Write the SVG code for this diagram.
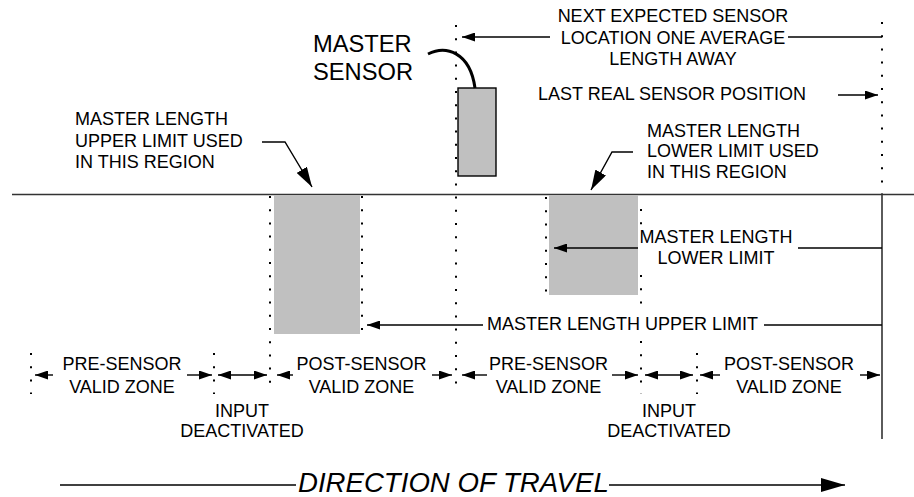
<svg xmlns="http://www.w3.org/2000/svg" width="914" height="497" viewBox="0 0 914 497">
<style>
text{font-family:"Liberation Sans",Arial,sans-serif;font-size:18px;fill:#000}
.c{text-anchor:middle}
.big{font-size:23.7px}
.trav{font-size:27.6px;font-style:italic}
.ln{stroke:#000;stroke-width:1.4;fill:none}
.dot{stroke:#000;stroke-width:2;stroke-dasharray:2 11.2;fill:none}
.box{fill:#c0c0c0}
</style>
<defs>
<marker id="ah" viewBox="0 0 13 9" refX="13" refY="4.5" markerWidth="13" markerHeight="9" orient="auto-start-reverse" markerUnits="userSpaceOnUse"><path d="M0,0L13,4.5L0,9z" fill="#000"/></marker>
<marker id="ahL" viewBox="0 0 20 12" refX="20" refY="6" markerWidth="20" markerHeight="12" orient="auto" markerUnits="userSpaceOnUse"><path d="M0,0L20,6L0,12z" fill="#000"/></marker>
<marker id="ahT" viewBox="0 0 24 14" refX="24" refY="7" markerWidth="24" markerHeight="14" orient="auto" markerUnits="userSpaceOnUse"><path d="M0,0L24,7L0,14z" fill="#000"/></marker>
</defs>

<g id="ground">
<line x1="12" y1="194.5" x2="914" y2="194.5" stroke="#333" stroke-width="1.6"/>
<line x1="882" y1="194" x2="882" y2="439" stroke="#333" stroke-width="1.6"/>
</g>

<g id="guides">
<line class="dot" x1="456" y1="25" x2="456" y2="394"/>
<line class="dot" x1="882" y1="22" x2="882" y2="194"/>
<line class="dot" x1="270" y1="196" x2="270" y2="394"/>
<line class="dot" x1="362" y1="196" x2="362" y2="334"/>
<line class="dot" x1="546" y1="197" x2="546" y2="294"/>
<line class="dot" x1="641" y1="209" x2="641" y2="394"/>
<line class="dot" x1="697" y1="353" x2="697" y2="394"/>
<line class="dot" x1="214" y1="353" x2="214" y2="394"/>
<line class="dot" x1="31" y1="353" x2="31" y2="394"/>
</g>

<g id="upper-region">
<rect class="box" x="274" y="195" width="86" height="139"/>
</g>
<g id="lower-region">
<rect class="box" x="549" y="195" width="89" height="100"/>
</g>

<g id="master-sensor">
<rect class="box" x="458" y="88" width="38" height="88" stroke="#000" stroke-width="1.4"/>
<path d="M428,54 C446,45 470,52 475,88" fill="none" stroke="#000" stroke-width="3"/>
<text class="big" x="313" y="52">MASTER</text>
<text class="big" x="313" y="80">SENSOR</text>
</g>

<g id="label-next">
<text class="c" x="673" y="22">NEXT EXPECTED SENSOR</text>
<text class="c" x="673" y="43.5">LOCATION ONE AVERAGE</text>
<text class="c" x="673" y="65">LENGTH AWAY</text>
</g>
<g id="label-last">
<text x="538" y="100">LAST REAL SENSOR POSITION</text>
</g>
<g id="label-upper-used">
<text x="75" y="125">MASTER LENGTH</text>
<text x="75" y="147">UPPER LIMIT USED</text>
<text x="75" y="168">IN THIS REGION</text>
</g>
<g id="label-lower-used">
<text x="647" y="137">MASTER LENGTH</text>
<text x="647" y="157">LOWER LIMIT USED</text>
<text x="647" y="178">IN THIS REGION</text>
</g>
<g id="label-lower-limit">
<rect x="639" y="228" width="156" height="42" fill="#fff"/>
<text class="c" x="716" y="243">MASTER LENGTH</text>
<text class="c" x="716" y="264">LOWER LIMIT</text>
</g>
<g id="label-upper-limit">
<rect x="486" y="313" width="270" height="20" fill="#fff"/>
<text x="487" y="330">MASTER LENGTH UPPER LIMIT</text>
</g>

<g id="zones">
<text class="c" x="122" y="370">PRE-SENSOR</text>
<text class="c" x="122" y="393">VALID ZONE</text>
<text class="c" x="242" y="417">INPUT</text>
<text class="c" x="242" y="437">DEACTIVATED</text>
<text class="c" x="361.5" y="370">POST-SENSOR</text>
<text class="c" x="361.5" y="393">VALID ZONE</text>
<text class="c" x="548.5" y="370">PRE-SENSOR</text>
<text class="c" x="548.5" y="393">VALID ZONE</text>
<text class="c" x="669" y="417">INPUT</text>
<text class="c" x="669" y="437">DEACTIVATED</text>
<text class="c" x="789" y="370">POST-SENSOR</text>
<text class="c" x="789" y="393">VALID ZONE</text>
</g>

<g id="travel">
<text class="trav" x="298" y="492">DIRECTION OF TRAVEL</text>
</g>

<g id="connectors">
<line class="ln" x1="550" y1="37" x2="462" y2="37" marker-end="url(#ah)"/>
<line class="ln" x1="788" y1="37" x2="882" y2="37"/>
<line class="ln" x1="838" y1="95" x2="878" y2="95" marker-end="url(#ah)"/>
<polyline class="ln" points="262,142 285,142 312,187" marker-end="url(#ahL)"/>
<polyline class="ln" points="633,152 612,152 591,190" marker-end="url(#ahL)"/>
<line class="ln" x1="798" y1="248" x2="882" y2="248"/>
<line class="ln" x1="638" y1="248" x2="554" y2="248" marker-end="url(#ah)"/>
<line class="ln" x1="483" y1="325" x2="367" y2="325" marker-end="url(#ah)"/>
<line class="ln" x1="764" y1="325" x2="882" y2="325"/>
<line class="ln" x1="53" y1="375" x2="35" y2="375" marker-end="url(#ah)"/>
<line class="ln" x1="187" y1="375" x2="212" y2="375" marker-end="url(#ah)"/>
<line class="ln" x1="218" y1="375" x2="267" y2="375" marker-start="url(#ah)" marker-end="url(#ah)"/>
<line class="ln" x1="293" y1="375" x2="277" y2="375" marker-end="url(#ah)"/>
<line class="ln" x1="432" y1="375" x2="452" y2="375" marker-end="url(#ah)"/>
<line class="ln" x1="487" y1="375" x2="462" y2="375" marker-end="url(#ah)"/>
<line class="ln" x1="612" y1="375" x2="638" y2="375" marker-end="url(#ah)"/>
<line class="ln" x1="645" y1="375" x2="693" y2="375" marker-start="url(#ah)" marker-end="url(#ah)"/>
<line class="ln" x1="720" y1="375" x2="700" y2="375" marker-end="url(#ah)"/>
<line class="ln" x1="860" y1="375" x2="880" y2="375" marker-end="url(#ah)"/>
<line class="ln" x1="60" y1="485" x2="296" y2="485"/>
<line class="ln" x1="609" y1="485" x2="845" y2="485" marker-end="url(#ahT)"/>
</g>
</svg>
